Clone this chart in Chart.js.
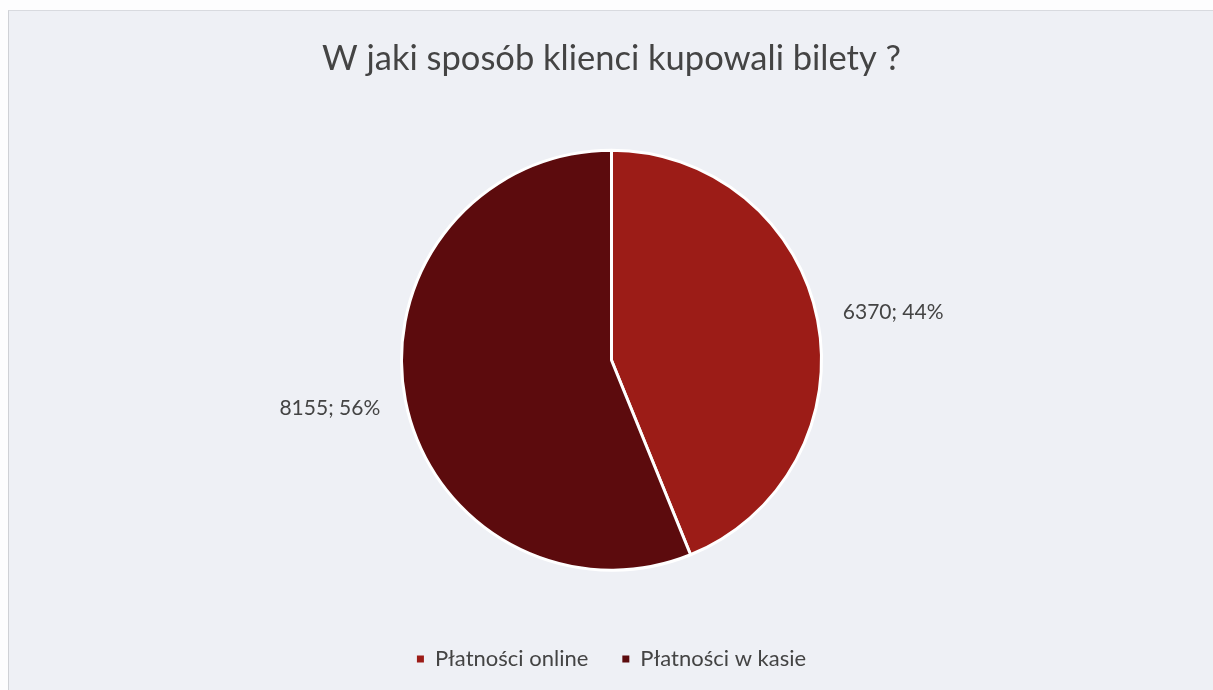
<!DOCTYPE html>
<html>
<head>
<meta charset="utf-8">
<script src="https://cdn.jsdelivr.net/npm/chart.js@4.4.1/dist/chart.umd.min.js"></script>
<style>
  html, body { margin: 0; padding: 0; background: #fdfdfe; }
  #wrap { position: relative; width: 1213px; height: 690px; overflow: hidden; }
  #box {
    position: absolute; left: 8px; top: 10px; width: 1220px; height: 700px;
    background: #eef0f5; border-left: 1px solid #cfd1d6; border-top: 1px solid #d8dadf;
  }
  canvas { position: absolute; left: 0; top: 0; }
</style>
</head>
<body>
<div id="wrap">
  <div id="box"></div>
  <canvas id="pieChart" width="1213" height="690"></canvas>
</div>
<script>
const categories = ['Płatności online', 'Płatności w kasie'];
const values = [6370, 8155];
const percents = [44, 56];
const sliceColors = ['#9c1c17', '#5c0b0d'];
const chartTitle = 'W jaki sposób klienci kupowali bilety ?';

const FONT = 'Lato, "Open Sans", sans-serif';
const TEXT = '#444444';

// draw "value; pct%" outside each slice, along the middle angle
const outsideLabels = {
  id: 'outsideLabels',
  afterDatasetsDraw(chart) {
    const c = chart.ctx;
    const arcs = chart.getDatasetMeta(0).data;
    c.save();
    c.font = '21px ' + FONT;
    c.fillStyle = TEXT;
    c.textAlign = 'center';
    c.textBaseline = 'middle';
    arcs.forEach((arc, i) => {
      const p = arc.getProps(['x', 'y', 'startAngle', 'endAngle', 'outerRadius'], true);
      const mid = (p.startAngle + p.endAngle) / 2;
      const dist = p.outerRadius + 77;
      const x = p.x + Math.cos(mid) * dist;
      const y = p.y + Math.sin(mid) * dist * 0.87;
      c.fillText(values[i] + '; ' + percents[i] + '%', x, y);
    });
    c.restore();
  }
};

const ctx = document.getElementById('pieChart').getContext('2d');
const pieChart = new Chart(ctx, {
  type: 'pie',
  data: {
    labels: categories,
    datasets: [{
      data: values,
      backgroundColor: sliceColors,
      borderColor: '#ffffff',
      borderWidth: 3
    }]
  },
  options: {
    responsive: false,
    animation: false,
    radius: 210,
    layout: { padding: { left: 10, right: 0, top: 0, bottom: 10 } },
    plugins: {
      title: {
        display: true,
        text: chartTitle,
        color: TEXT,
        font: { family: FONT, size: 34.5, weight: 'normal' },
        padding: { top: 38, bottom: 27 }
      },
      legend: {
        position: 'bottom',
        labels: {
          color: TEXT,
          font: { family: FONT, size: 22 },
          boxWidth: 7,
          boxHeight: 7,
          padding: 34,
          generateLabels(chart) {
            const items = Chart.controllers.pie.overrides.plugins.legend.labels.generateLabels(chart);
            items.forEach(it => { it.strokeStyle = it.fillStyle; it.lineWidth = 0; });
            return items;
          }
        }
      },
      tooltip: { enabled: false }
    }
  },
  plugins: [outsideLabels]
});
</script>
</body>
</html>
